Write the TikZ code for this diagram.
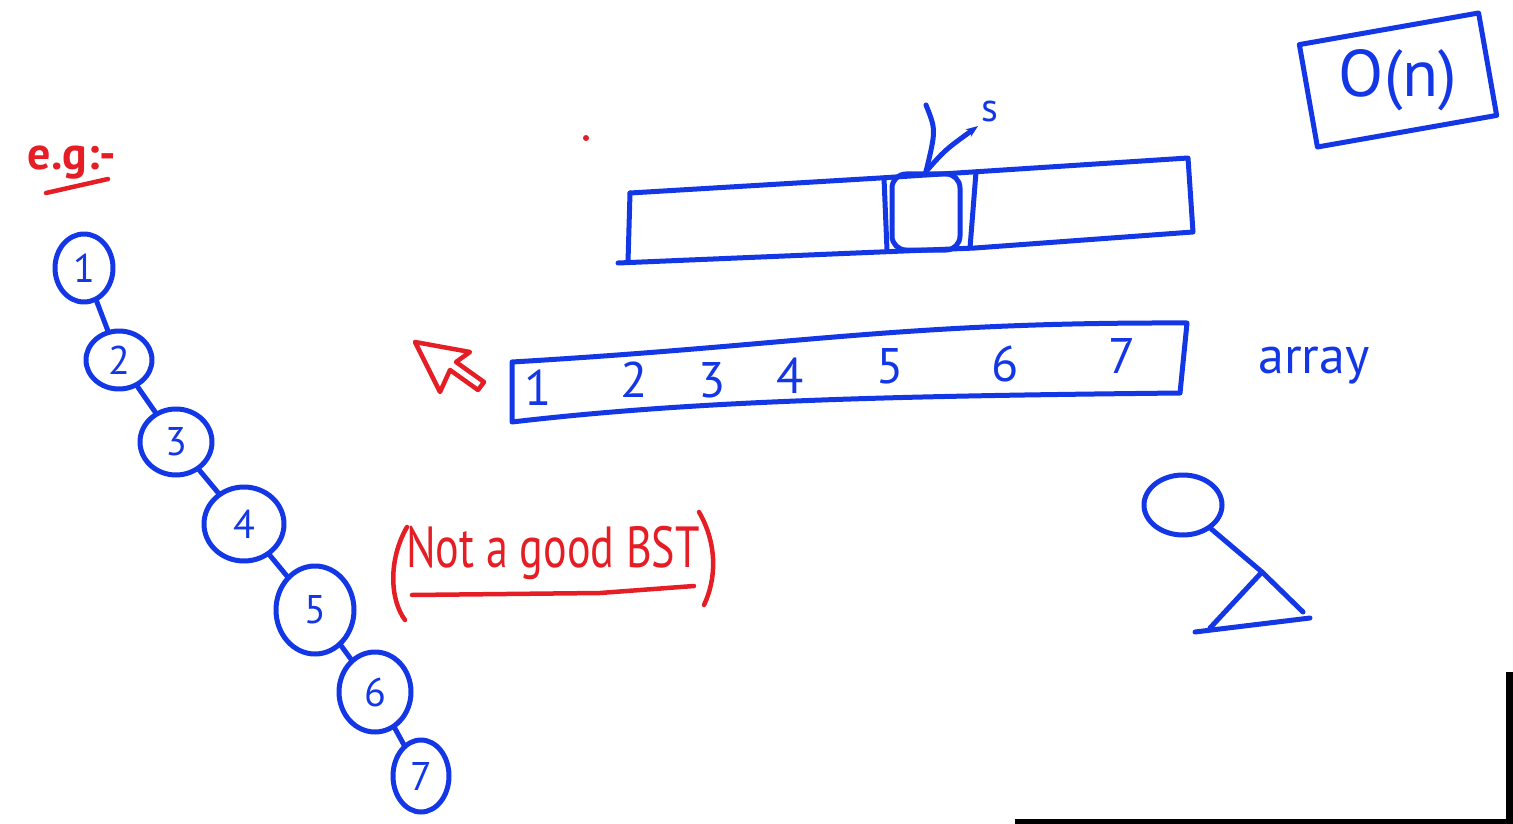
\documentclass[tikz,border=0pt]{standalone}
\usepackage{fontspec}
\setmainfont{PT Sans}
\usetikzlibrary{arrows.meta, shapes.geometric}
\definecolor{penblue}{RGB}{20,55,230}
\definecolor{penred}{RGB}{228,30,36}

\begin{document}
\begin{tikzpicture}[
    x=1pt, y=-1pt,
    pen/.style={draw=penblue, line width=5pt, line cap=round, line join=round},
    redpen/.style={draw=penred, line width=4.5pt, line cap=round, line join=round},
    treenode/.style={ellipse, pen, inner sep=0pt, text=penblue, font=\fontsize{40}{40}\selectfont},
    cell/.style={text=penblue, font=\fontsize{50}{50}\selectfont},
    bluetext/.style={text=penblue, font=\fontsize{52}{52}\selectfont},
    redtext/.style={text=penred, font=\fontsize{58}{58}\selectfont}
]
\useasboundingbox (0,0) rectangle (1513,824);

% example label
\node[redtext, font=\bfseries\fontsize{46}{46}\selectfont] (eg) at (72,163) {e.g:-};
\draw[redpen] (46,193) -- (108,179);
\fill[penred] (586,138) circle (3);

% skewed tree
\node[treenode, minimum width=58, minimum height=68] (n1) at (84,268) {1};
\node[treenode, minimum width=66, minimum height=58] (n2) at (119,360) {2};
\node[treenode, minimum width=72, minimum height=66] (n3) at (176,442) {3};
\node[treenode, minimum width=80, minimum height=74] (n4) at (244,524) {4};
\node[treenode, minimum width=78, minimum height=88] (n5) at (315,610) {5};
\node[treenode, minimum width=72, minimum height=80] (n6) at (375,692) {6};
\node[treenode, minimum width=56, minimum height=72] (n7) at (421,776) {7};
\foreach \a/\b in {n1/n2, n2/n3, n3/n4, n4/n5, n5/n6, n6/n7}
    \draw[pen] (\a) -- (\b);

% comment
\node[redtext, xscale=0.76] (bad) at (553,553) {Not a good BST};
\draw[redpen] (412,595) -- (600,593) -- (694,586);
\draw[redpen] (407,527) .. controls (388,560) and (390,600) .. (405,620);
\draw[redpen] (699,512) .. controls (718,545) and (716,580) .. (704,605);

% pointer
\draw[redpen] (415,342) -- (470,352) -- (456,362) -- (484,382)
    -- (478,390) -- (450,370) -- (440,392) -- cycle;

% split array
\draw[pen] (630,193) -- (880,178) -- (1188,158) -- (1193,232)
    -- (975,248) -- (618,263);
\draw[pen] (630,193) -- (628,262);
\draw[pen] (884,178) -- (887,250);
\draw[pen] (976,172) -- (970,248);
\node[pen, rounded corners=14, minimum width=68, minimum height=76] (mid) at (926,212) {};
\node[text=penblue, font=\fontsize{40}{40}\selectfont] (s) at (990,112) {s};
\draw[pen] (926,105) .. controls (936,130) .. (mid.north);
\draw[pen, -{Stealth[length=12pt]}] (mid.north) .. controls (945,150) .. (s.south west);

% sorted array
\draw[pen] (512,362) .. controls (800,345) and (900,322) .. (1187,323)
    -- (1180,393) .. controls (900,396) and (700,400) .. (512,422) -- cycle;
\foreach \v/\x/\y in {1/538/388, 2/634/380, 3/712/380, 4/790/376,
    5/890/366, 6/1005/364, 7/1122/356}
    \node[cell] (c\v) at (\x,\y) {\v};
\node[bluetext] (arr) at (1314,366) {array};

% complexity
\node[pen, rotate=10, minimum width=182, minimum height=104] (bigo) at (1398,80) {};
\node[text=penblue, font=\fontsize{66}{66}\selectfont] (bigotext) at (bigo.center) {O(n)};

% small tree
\node[treenode, minimum width=78, minimum height=60] (root) at (1183,505) {};
\coordinate (sub) at (1262,572);
\draw[pen] (root) -- (sub);
\draw[pen] (1210,628) -- (sub) -- (1303,612);
\draw[pen] (1195,632) -- (1310,618);

% frame edge
\fill[black] (1506,672) rectangle (1513,824);
\fill[black] (1015,819) rectangle (1513,824);
\end{tikzpicture}
\end{document}
